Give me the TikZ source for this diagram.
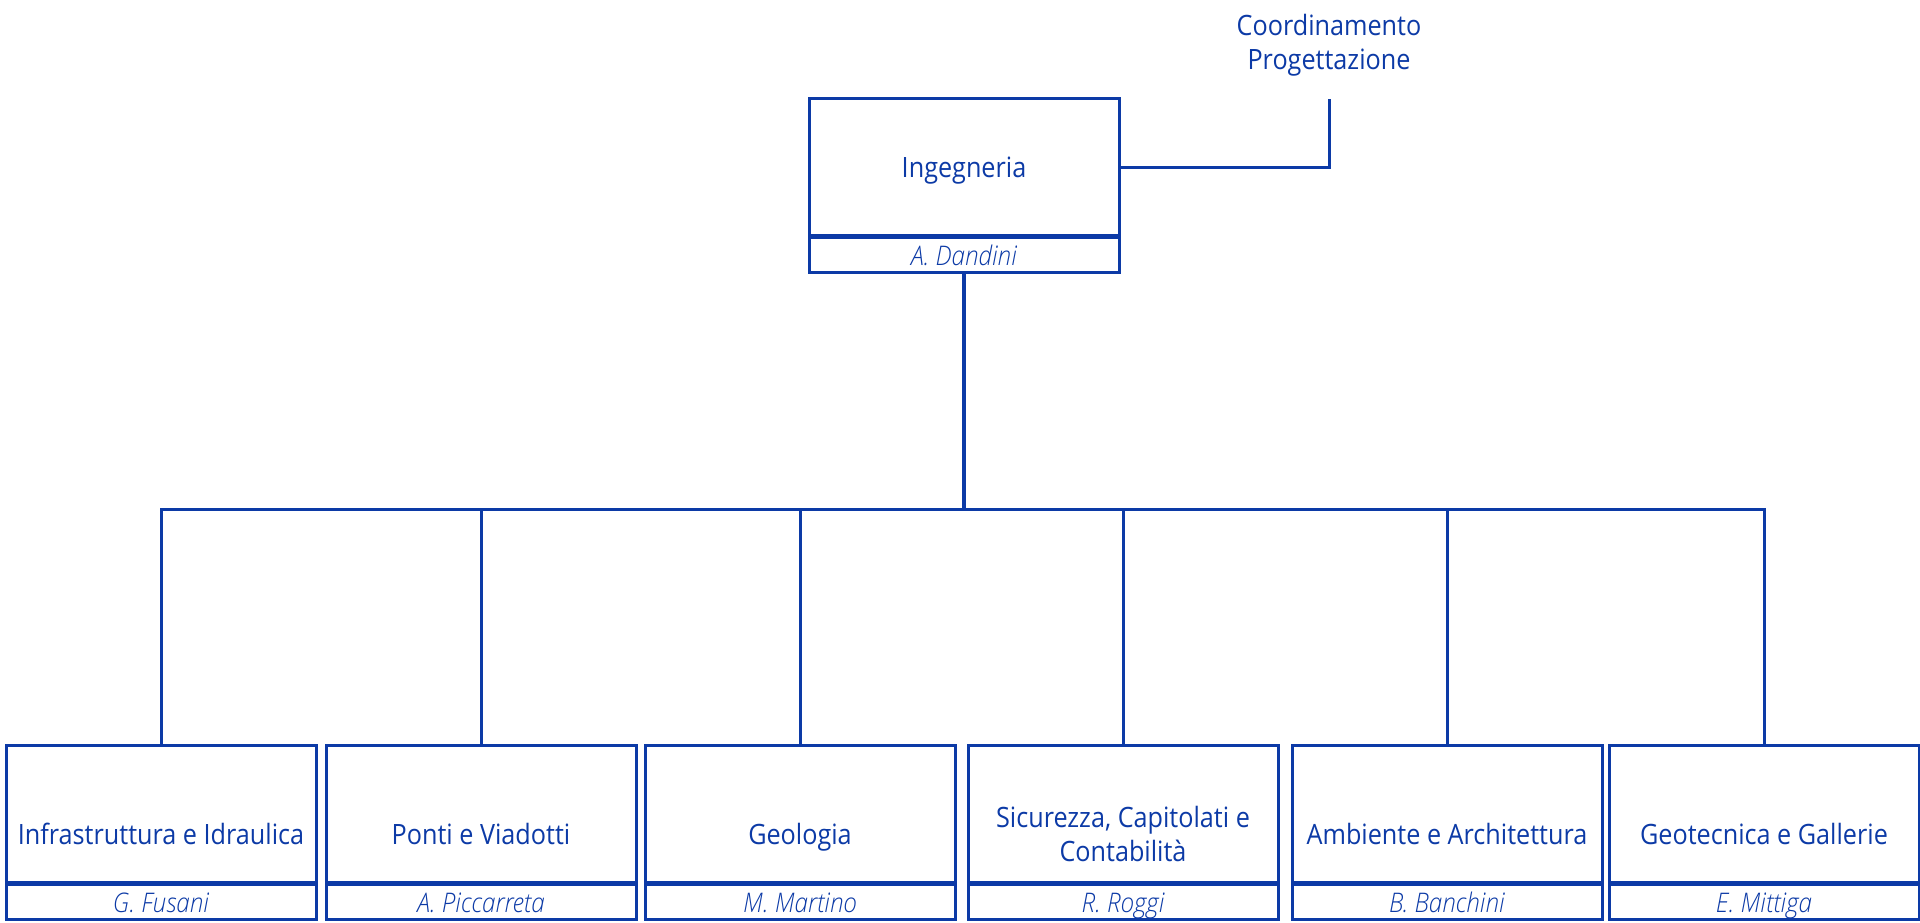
\documentclass[tikz,border=0pt]{standalone}
\usepackage{fontspec}
\setmainfont[FakeStretch=0.9]{Open Sans}
\IfFontExistsTF{Open Sans Light Italic}
  {\newfontfamily\namefont[FakeStretch=0.9]{Open Sans Light Italic}}
  {\newfontfamily\namefont[FakeStretch=0.9]{Open Sans Italic}}
\usetikzlibrary{calc}
\definecolor{orgblue}{RGB}{12,58,166}
\tikzset{
  x=1pt, y=-1pt,
  titlebox/.style={draw=orgblue, line width=3pt, minimum width=310pt, minimum height=138pt, inner sep=0pt, outer sep=0pt, anchor=north},
  namebox/.style={draw=orgblue, line width=3pt, minimum width=310pt, minimum height=36pt, inner sep=0pt, outer sep=0pt, anchor=north, text=orgblue, font=\fontsize{27}{30}\namefont, text height=28pt, text depth=6pt},
  titletext/.style={text=orgblue, align=center, font=\fontsize{28}{34.5}\selectfont},
  oneline/.style={text height=27pt, text depth=6pt},
  twoline/.style={},
  divider/.style={orgblue, line width=5pt},
  conn/.style={orgblue, line width=3pt},
  mainconn/.style={orgblue, line width=4pt},
}
\begin{document}
\begin{tikzpicture}
\useasboundingbox (0,0) rectangle (1920,922);
% top box
\node[titlebox] (ing) at (964,98) {};
\node[titletext, oneline] (ingt) at (ing.center) {Ingegneria};
\node[namebox] (ingn) at (ing.south) {A. Dandini};
\draw[divider] (ing.south west) -- (ing.south east);
% coordinamento
\node[titletext, font=\fontsize{28}{34.5}\selectfont] (coord) at (1329,45) {Coordinamento\\Progettazione};
\coordinate (cp) at (1329,99);
\draw[conn] (ing.east) -| (cp);
% bus
\coordinate (bus) at (964,509);
\draw[mainconn] (ingn.south) -- (bus);
% bottom boxes
\foreach \n/\cx/\st/\t/\p in {
  b1/161/oneline/{Infrastruttura e Idraulica}/{G. Fusani},
  b2/481/oneline/{Ponti e Viadotti}/{A. Piccarreta},
  b3/800/oneline/{Geologia}/{M. Martino},
  b4/1123/twoline/{Sicurezza, Capitolati e\\Contabilità}/{R. Roggi},
  b5/1447/oneline/{Ambiente e Architettura}/{B. Banchini},
  b6/1764/oneline/{Geotecnica e Gallerie}/{E. Mittiga}} {
  \node[titlebox] (\n) at (\cx,745) {};
  \node[titletext, \st] (\n t) at ($(\n.center)+(0,20)$) {\t};
  \node[namebox] (\n n) at (\n.south) {\p};
  \draw[divider] (\n.south west) -- (\n.south east);
  \draw[conn] (\n.north) |- (bus);
}
\end{tikzpicture}
\end{document}
